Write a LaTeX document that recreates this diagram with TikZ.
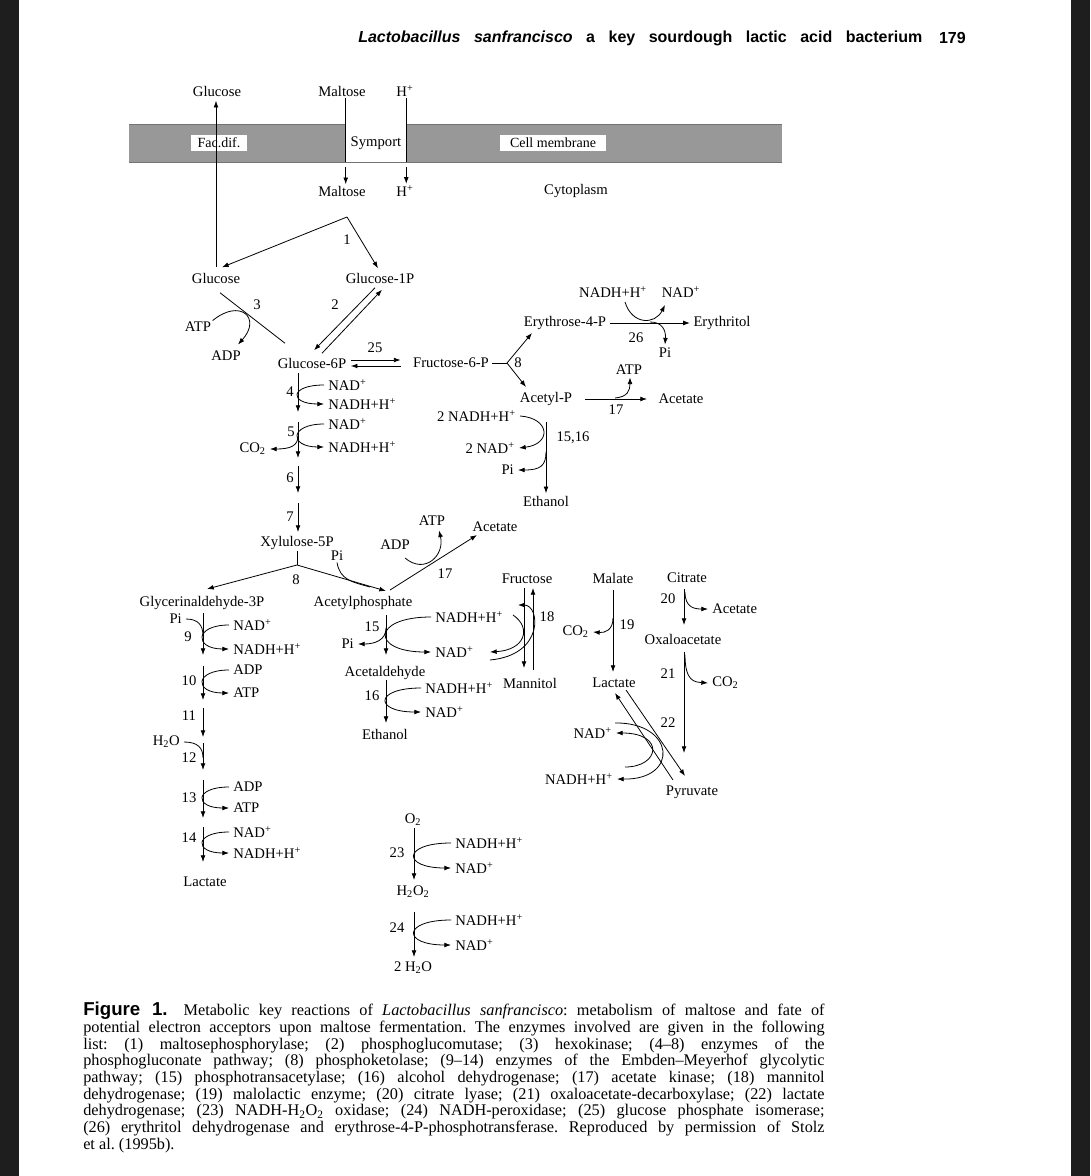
\documentclass[tikz,border=0pt]{standalone}
\usepackage{fontspec}
\setmainfont{Liberation Serif}
\setsansfont{Liberation Sans}
\usetikzlibrary{arrows.meta}
\definecolor{membgray}{RGB}{152,152,152}
\definecolor{stripcol}{RGB}{30,30,30}
\newcommand{\loopC}[3]{\draw[arr] (#1.west) .. controls +(-#3,0) and +(-#3,0) .. (#2.west);}
\begin{document}
\begin{tikzpicture}[x=0.75pt,y=-0.75pt,
  lab/.style={inner sep=1pt, font=\fontsize{11}{13}\selectfont},
  sidel/.style={lab, anchor=west, inner xsep=3pt},
  sider/.style={lab, anchor=east, inner xsep=3pt},
  arr/.style={-{Latex[length=5pt,width=3.6pt]}, line width=0.6pt},
  ln/.style={line width=0.6pt},
  mbox/.style={fill=white, inner sep=0pt, font=\fontsize{10.5}{12}\selectfont, minimum height=12pt},
]
\useasboundingbox (0,0) rectangle (1090,1176);
\fill[white] (0,0) rectangle (1090,1176);
\fill[stripcol] (0,0) rectangle (19,1176);
\fill[stripcol] (1071,0) rectangle (1090,1176);

% header
\node[anchor=west, inner sep=0, font=\sffamily\bfseries\fontsize{12}{14}\selectfont] (hdr) at (358,38)
  {\makebox[423pt][s]{\itshape Lactobacillus sanfrancisco\/\upshape{} a key sourdough lactic acid bacterium}};
\node[anchor=east, inner sep=0, font=\sffamily\bfseries\fontsize{12}{14}\selectfont] (pg) at (966,38) {179};

% membrane
\fill[membgray] (129,124) rectangle (782,162);
\draw[black!55, line width=0.5pt] (129,124) -- (782,124);
\draw[black!55, line width=0.5pt] (129,162) -- (782,162);
\node[mbox, minimum width=42pt] (facdif) at (219,143) {Fac.dif.};
\node[mbox, minimum width=45pt, minimum height=28.5pt, font=\fontsize{11}{13}\selectfont] (symport) at (376,143) {Symport};
\node[mbox, minimum width=80pt] (cellm) at (553,143) {Cell membrane};

\node[lab] (glcout) at (217,91) {Glucose};
\node[lab] (maltout) at (342,91) {Maltose};
\node[lab] (hout) at (405,91) {H\textsuperscript{+}};
\node[lab] (maltin) at (342,191) {Maltose};
\node[lab] (hin) at (405,191) {H\textsuperscript{+}};
\node[lab] (cyto) at (576,191) {Cytoplasm};

\node[lab] (glcin) at (216,278) {Glucose};
\node[lab] (g1p) at (380,278) {Glucose-1P};
\node[lab] (n1) at (347,240) {1};
\coordinate (apex) at (347,217);

\draw[arr] ([shift={(0,-4)}]glcin.north) -- ([shift={(-1,3)}]glcout.south);
\draw[ln] (maltout.south -| symport.west) -- (symport.south west);
\draw[ln] (hout.south -| symport.east) -- (symport.south east);
\draw[arr] ([shift={(0,5)}]symport.south west) -- (maltin.north -| symport.west);
\draw[arr] ([shift={(0,5)}]symport.south east) -- (hin.north -| symport.east);
\draw[arr] (apex) -- ([shift={(6,-4)}]glcin.north);
\draw[arr] (apex) -- ([shift={(-2,-3)}]g1p.north);

% hexokinase
\node[lab] (g6p) at (312,363) {Glucose-6P};
\node[lab] (f6p) at (451,363) {Fructose-6-P};
\node[lab] (atp3) at (198,327) {ATP};
\node[lab] (adp3) at (226,356) {ADP};
\node[lab] (n3) at (257,305) {3};
\node[lab] (n2) at (335,305) {2};
\node[lab] (n25) at (375,348) {25};
\draw[ln] ([shift={(4,8)}]glcin.south) -- ([shift={(-27,-13)}]g6p.north);
\draw[arr] (atp3.north east) .. controls (240,298) and (262,318) .. ([shift={(12,-5)}]adp3.north);
\draw[arr] ([shift={(-5,3)}]g1p.south) -- ([shift={(2,-6)}]g6p.north);
\draw[arr] ([shift={(10,-3)}]g6p.north) -- ([shift={(2,5)}]g1p.south);
\draw[arr] ([shift={(3,-3)}]g6p.east) -- ([shift={(-11,-3)}]f6p.west);
\draw[arr] ([shift={(-11,3)}]f6p.west) -- ([shift={(3,3)}]g6p.east);

% phosphogluconate chain
\draw[arr] (298,373) -- (298,412);
\draw[arr] (298,422) -- (298,458);
\draw[arr] (298,466) -- (298,493);
\draw[arr] (298,503) -- (298,532);
\node[lab] (n4) at (290,392) {4};
\node[lab] (n5) at (291,432) {5};
\node[lab] (n6) at (290,478) {6};
\node[lab] (n7) at (290,517) {7};
\node[sidel] (nad4) at (324,385) {NAD\textsuperscript{+}};
\node[sidel] (nadh4) at (324,404) {NADH+H\textsuperscript{+}};
\node[sidel] (nad5) at (324,424) {NAD\textsuperscript{+}};
\node[sidel] (nadh5) at (324,447) {NADH+H\textsuperscript{+}};
\node[sider] (co2a) at (270,449) {CO\textsubscript{2}};
\loopC{nad4}{nadh4}{35}
\loopC{nad5}{nadh5}{35}
\draw[arr] (298,436) .. controls (298,446) and (290,449) .. (co2a.east);

\node[lab] (xyl) at (297,543) {Xylulose-5P};
\coordinate (b8) at (297,565);
\draw[ln] (xyl.south) -- (b8);
\draw[arr] (b8) -- (207,589);
\draw[arr] (b8) -- (386,591);
\node[lab] (n8a) at (296,580) {8};
\node[lab] (pi8) at (337,556) {Pi};
\draw[ln] (pi8.south) .. controls (340,580) and (352,582) .. (370,587);

\node[lab] (gap) at (202,603) {Glycerinaldehyde-3P};
\node[lab] (acp) at (363,603) {Acetylphosphate};
\node[lab] (atp17) at (432,521) {ATP};
\node[lab] (adp17) at (395,545) {ADP};
\node[lab] (acet2) at (495,527) {Acetate};
\node[lab] (n17b) at (445,574) {17};
\draw[arr] (390,590) -- (477,535);
\draw[arr] (405,558) .. controls (425,575) and (445,555) .. ([shift={(7,3)}]atp17.south);

% glycolysis column
\draw[arr] (203,613) -- (203,655);
\draw[arr] (203,666) -- (203,700);
\draw[arr] (203,708) -- (203,737);
\draw[arr] (203,743) -- (203,770);
\draw[arr] (203,780) -- (203,818);
\draw[arr] (203,827) -- (203,862);
\node[lab] (n9) at (188,637) {9};
\node[lab] (n10) at (189,681) {10};
\node[lab] (n11) at (189,716) {11};
\node[lab] (n12) at (189,758) {12};
\node[lab] (n13) at (189,798) {13};
\node[lab] (n14) at (189,838) {14};
\node[sider] (pi9) at (186,619) {Pi};
\node[sider] (h2o12) at (184,742) {H\textsubscript{2}O};
\node[sidel] (nad9) at (229,625) {NAD\textsuperscript{+}};
\node[sidel] (nadh9) at (229,649) {NADH+H\textsuperscript{+}};
\node[sidel] (adp10) at (229,670) {ADP};
\node[sidel] (atp10) at (229,693) {ATP};
\node[sidel] (adp13) at (229,787) {ADP};
\node[sidel] (atp13) at (229,808) {ATP};
\node[sidel] (nad14) at (229,832) {NAD\textsuperscript{+}};
\node[sidel] (nadh14) at (229,853) {NADH+H\textsuperscript{+}};
\loopC{nad9}{nadh9}{35}
\loopC{adp10}{atp10}{35}
\loopC{adp13}{atp13}{35}
\loopC{nad14}{nadh14}{35}
\draw[ln] (pi9.east) .. controls (198,619) and (203,625) .. (203,636);
\draw[ln] (h2o12.east) .. controls (198,742) and (203,748) .. (203,758);
\node[lab] (lact1) at (205,882) {Lactate};

% acetylphosphate column
\draw[arr] (386,615) -- (386,655);
\draw[arr] (386,680) -- (386,723);
\node[lab] (n15) at (372,627) {15};
\node[lab] (n16) at (372,696) {16};
\node[sider] (pi15) at (358,644) {Pi};
\node[sidel] (nadh15) at (431,617) {NADH+H\textsuperscript{+}};
\node[sidel] (nad15) at (431,652) {NAD\textsuperscript{+}};
\node[lab] (acald) at (385,673) {Acetaldehyde};
\node[sidel] (nadh16) at (421,688) {NADH+H\textsuperscript{+}};
\node[sidel] (nad16) at (421,712) {NAD\textsuperscript{+}};
\node[lab] (eth2) at (385,734) {Ethanol};
\loopC{nadh15}{nad15}{60}
\loopC{nadh16}{nad16}{47}
\draw[arr] (386,628) .. controls (386,640) and (375,644) .. (pi15.east);

% mannitol
\node[lab] (fru) at (527,579) {Fructose};
\node[lab] (mann) at (530,683) {Mannitol};
\node[lab] (n18) at (547,617) {18};
\draw[arr] (524,588) -- (524,668);
\draw[arr] (533,670) -- (533,588);
\draw[arr] (513,615) .. controls (532,628) and (525,650) .. (490,652);
\draw[arr] (490,660) .. controls (545,655) and (540,605) .. (518,605);

% erythrose / acetyl-P
\node[lab] (eryp) at (565,323) {Erythrose-4-P};
\node[lab] (eryt) at (722,323) {Erythritol};
\node[lab] (nadh26) at (613,292) {NADH+H\textsuperscript{+}};
\node[lab] (nad26) at (681,292) {NAD\textsuperscript{+}};
\node[lab] (pi26) at (665,353) {Pi};
\node[lab] (n26) at (636,338) {26};
\node[lab] (n8b) at (518,363) {8};
\coordinate (b8b) at (507,363);
\draw[ln] ([shift={(2,0)}]f6p.east) -- (b8b);
\draw[arr] (b8b) -- (532,333);
\draw[arr] (b8b) -- (526,387);
\draw[arr] ([shift={(2,0)}]eryp.east) -- ([shift={(-2,0)}]eryt.west);
\draw[arr] (625,302) .. controls (632,325) and (655,325) .. (665,305);
\draw[arr] (650,322) .. controls (662,322) and (666,330) .. ([shift={(0,-2)}]pi26.north);

\node[lab] (acetp) at (546,399) {Acetyl-P};
\node[lab] (acet1) at (681,399) {Acetate};
\node[lab] (atp1) at (629,370) {ATP};
\node[lab] (n17a) at (616,410) {17};
\draw[arr] (585,399) -- (647,399);
\draw[arr] (615,398) .. controls (628,397) and (630,390) .. ([shift={(1,1)}]atp1.south);

\node[sider] (nadh1516) at (520,416) {2 NADH+H\textsuperscript{+}};
\node[sider] (nad1516) at (519,448) {2 NAD\textsuperscript{+}};
\node[sider] (pi1516) at (518,470) {Pi};
\node[lab] (n1516) at (573,438) {15,16};
\node[lab] (eth1) at (546,501) {Ethanol};
\draw[arr] (546,422) -- ([shift={(0,-1)}]eth1.north);
\draw[arr] (nadh1516.east) .. controls (550,418) and (552,444) .. (nad1516.east);
\draw[arr] (546,452) .. controls (546,466) and (540,470) .. (pi1516.east);

% malate / citrate
\node[lab] (mal) at (613,578) {Malate};
\node[lab] (n19) at (627,625) {19};
\node[sider] (co2b) at (593,632) {CO\textsubscript{2}};
\node[lab] (lact2) at (614,683) {Lactate};
\draw[arr] (613,590) -- (613,672);
\draw[arr] (613,618) .. controls (613,630) and (605,633) .. (co2b.east);

\node[lab] (cit) at (687,578) {Citrate};
\node[lab] (n20) at (668,599) {20};
\node[sidel] (acet3) at (708,609) {Acetate};
\node[lab] (oxa) at (683,639) {Oxaloacetate};
\node[lab] (n21) at (668,674) {21};
\node[sidel] (co2c) at (708,683) {CO\textsubscript{2}};
\node[lab] (n22) at (668,723) {22};
\node[lab] (pyr) at (692,792) {Pyruvate};
\draw[arr] (684,589) -- (684,625);
\draw[arr] (685,592) .. controls (685,608) and (695,609) .. (acet3.west);
\draw[arr] (684,652) -- (684,753);
\draw[arr] (685,655) .. controls (685,682) and (695,682) .. (co2c.west);
\draw[arr] (673,780) -- (615,693);
\draw[arr] (626,690) -- (685,776);
\node[sider] (nad22) at (616,733) {NAD\textsuperscript{+}};
\node[sider] (nadh22) at (617,779) {NADH+H\textsuperscript{+}};
\draw[arr] (615,723) .. controls (675,722) and (680,780) .. (nadh22.east);
\draw[arr] (625,767) .. controls (660,767) and (665,733) .. (nad22.east);

% oxygen
\node[lab] (o2) at (413,820) {O\textsubscript{2}};
\node[lab] (n23) at (397,853) {23};
\node[sidel] (nadh23) at (451,843) {NADH+H\textsuperscript{+}};
\node[sidel] (nad23) at (451,868) {NAD\textsuperscript{+}};
\node[lab] (h2o2) at (413,892) {H\textsubscript{2}O\textsubscript{2}};
\node[lab] (n24) at (397,928) {24};
\node[sidel] (nadh24) at (451,920) {NADH+H\textsuperscript{+}};
\node[sidel] (nad24) at (451,945) {NAD\textsuperscript{+}};
\node[lab] (h2o) at (413,968) {2 H\textsubscript{2}O};
\draw[arr] (414,828) -- (414,880);
\draw[arr] (414,912) -- (414,957);
\loopC{nadh23}{nad23}{49}
\loopC{nadh24}{nad24}{49}

% caption
\node[anchor=north west, inner sep=0, text width=556pt, align=justify, font=\fontsize{12.2}{12.5}\selectfont\frenchspacing] (cap) at (83,1002)
{{\sffamily\bfseries\fontsize{14}{12.5}\selectfont Figure 1.}\hspace{5pt} Metabolic key reactions of \textit{Lactobacillus sanfrancisco}: metabolism of maltose and fate of\linebreak
potential electron acceptors upon maltose fermentation. The enzymes involved are given in the following\linebreak
list: (1) maltosephosphorylase; (2) phosphoglucomutase; (3) hexokinase; (4–8) enzymes of the\linebreak
phosphogluconate pathway; (8) phosphoketolase; (9–14) enzymes of the Embden–Meyerhof glycolytic\linebreak
pathway; (15) phosphotransacetylase; (16) alcohol dehydrogenase; (17) acetate kinase; (18) mannitol\linebreak
dehydrogenase; (19) malolactic enzyme; (20) citrate lyase; (21) oxaloacetate-decarboxylase; (22) lactate\linebreak
dehydrogenase; (23) NADH-H\textsubscript{2}O\textsubscript{2} oxidase; (24) NADH-peroxidase; (25) glucose phosphate isomerase;\linebreak
(26) erythritol dehydrogenase and erythrose-4-P-phosphotransferase. Reproduced by permission of Stolz\linebreak
et al. (1995b).};
\end{tikzpicture}
\end{document}
